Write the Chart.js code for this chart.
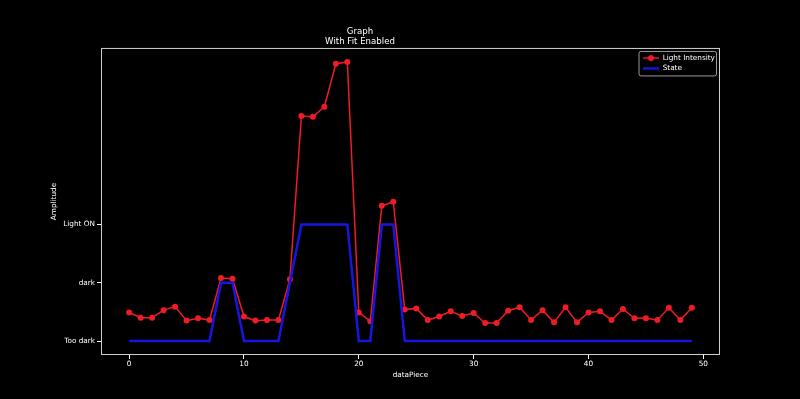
<!DOCTYPE html>
<html>
<head>
<meta charset="utf-8">
<script src="https://cdn.jsdelivr.net/npm/chart.js@4/dist/chart.umd.min.js"></script>
<style>
  html, body { margin: 0; padding: 0; background: #000; }
  canvas { display: block; }
</style>
</head>
<body>
<canvas id="graph" width="800" height="399"></canvas>
<script>
// data
const dataPiece = [0, 1, 2, 3, 4, 5, 6, 7, 8, 9, 10, 11, 12, 13, 14, 15, 16, 17, 18, 19,
    20, 21, 22, 23, 24, 25, 26, 27, 28, 29, 30, 31, 32, 33, 34, 35, 36, 37, 38, 39,
    40, 41, 42, 43, 44, 45, 46, 47, 48, 49];
const lightIntensity = [0.49, 0.40, 0.40, 0.53, 0.59, 0.35, 0.39, 0.36, 1.08, 1.07,
    0.42, 0.35, 0.36, 0.36, 1.06, 3.86, 3.85, 4.02, 4.76, 4.79,
    0.49, 0.34, 2.32, 2.39, 0.54, 0.56, 0.36, 0.42, 0.51, 0.43,
    0.48, 0.31, 0.31, 0.52, 0.58, 0.36, 0.53, 0.32, 0.58, 0.32,
    0.49, 0.51, 0.36, 0.55, 0.39, 0.39, 0.36, 0.57, 0.36, 0.57];
const state = [0, 0, 0, 0, 0, 0, 0, 0, 1, 1,
    0, 0, 0, 0, 1, 2, 2, 2, 2, 2,
    0, 0, 2, 2, 0, 0, 0, 0, 0, 0,
    0, 0, 0, 0, 0, 0, 0, 0, 0, 0,
    0, 0, 0, 0, 0, 0, 0, 0, 0, 0];
const xTicks = [0, 10, 20, 30, 40, 50];
const yTicks = [0, 1, 2];
const yTickLabels = ['Too dark', 'dark', 'Light ON'];

const RED = '#ee1c25';
const BLUE = '#1616e0';
const FONT = 'DejaVu Sans';

// small legend icons: line with marker / plain line
function legendIcon(color, width, marker) {
    const c = document.createElement('canvas');
    c.width = 16; c.height = 8;
    const g = c.getContext('2d');
    g.strokeStyle = color;
    g.lineWidth = width;
    g.beginPath(); g.moveTo(0, 4); g.lineTo(16, 4); g.stroke();
    if (marker) {
        g.fillStyle = color;
        g.beginPath(); g.arc(8, 4, 3, 0, Math.PI * 2); g.fill();
    }
    return c;
}
const redIcon = legendIcon(RED, 1.5, true);
const blueIcon = legendIcon(BLUE, 2.5, false);

const frame = {
    id: 'frame',
    beforeDraw(chart) {
        // move the legend into the top right corner of the axes
        const a = chart.chartArea;
        const lg = chart.legend;
        lg.left = a.right - 80;
        lg.right = lg.left + 78;
        lg.top = a.top + 3.5;
        lg.bottom = a.bottom;
    },
    beforeDatasetsDraw(chart) {
        const a = chart.chartArea;
        const ctx = chart.ctx;
        ctx.save();
        ctx.strokeStyle = '#d0d0d0';
        ctx.lineWidth = 1;
        ctx.strokeRect(a.left + 0.5, a.top + 0.5, a.right - a.left - 1, a.bottom - a.top - 1);
        // legend frame
        ctx.strokeStyle = '#9a9a9a';
        ctx.beginPath();
        ctx.roundRect(a.right - 81, a.top + 3.5, 77.5, 24.5, 2);
        ctx.stroke();
        ctx.restore();
    }
};

const points = (ys) => dataPiece.map((x, i) => ({ x, y: ys[i] }));

new Chart(document.getElementById('graph'), {
    type: 'line',
    data: {
        datasets: [{
            label: 'Light Intensity',
            data: points(lightIntensity),
            borderColor: RED,
            backgroundColor: RED,
            borderWidth: 1.5,
            pointRadius: 3,
            pointBorderWidth: 0,
            pointBackgroundColor: RED,
            tension: 0,
            order: 2
        }, {
            label: 'State',
            data: points(state),
            borderColor: BLUE,
            backgroundColor: BLUE,
            borderWidth: 2.5,
            pointRadius: 0,
            tension: 0,
            order: 1
        }]
    },
    options: {
        responsive: false,
        animation: false,
        devicePixelRatio: 1,
        layout: { padding: { left: 0, right: 80, top: 0, bottom: 0 } },
        scales: {
            x: {
                type: 'linear',
                min: -2.45, max: 51.45,
                afterBuildTicks: s => { s.ticks = xTicks.map(v => ({ value: v })); },
                afterFit: s => { s.height = 44; },
                grid: { drawOnChartArea: false, color: '#ffffff', tickLength: 4, tickWidth: 1 },
                border: { display: false },
                ticks: { color: '#ffffff', font: { family: FONT, size: 7.3 }, padding: 1, maxRotation: 0 },
                title: { display: true, text: 'dataPiece', color: '#ffffff',
                    font: { family: FONT, size: 7.3 }, padding: { top: 0, bottom: 20 } }
            },
            y: {
                type: 'linear',
                min: -0.24, max: 5.03,
                afterBuildTicks: s => { s.ticks = yTicks.map(v => ({ value: v })); },
                afterFit: s => { s.width = 101; },
                grid: { drawOnChartArea: false, color: '#ffffff', tickLength: 4, tickWidth: 1 },
                border: { display: false },
                ticks: {
                    color: '#ffffff', font: { family: FONT, size: 7.3 }, padding: 2,
                    callback: (v) => yTickLabels[yTicks.indexOf(v)]
                },
                title: { display: true, text: 'Amplitude', color: '#ffffff',
                    font: { family: FONT, size: 7.3 }, padding: { top: 50, bottom: 0 } }
            }
        },
        plugins: {
            title: {
                display: true,
                text: ['Graph', 'With Fit Enabled'],
                color: '#ffffff',
                font: { family: FONT, size: 8.6, weight: 'normal', lineHeight: 1.16 },
                padding: { top: 26.5, bottom: 1.5 }
            },
            legend: {
                display: true,
                position: 'chartArea',
                align: 'start',
                labels: {
                    color: '#ffffff',
                    font: { family: FONT, size: 7.3 },
                    usePointStyle: true,
                    pointStyleWidth: 16,
                    padding: 3,
                    generateLabels(chart) {
                        const items = Chart.defaults.plugins.legend.labels.generateLabels(chart);
                        items.sort((p, q) => p.datasetIndex - q.datasetIndex);
                        items.forEach(it => { it.pointStyle = it.datasetIndex === 0 ? redIcon : blueIcon; });
                        return items;
                    }
                }
            },
            tooltip: { enabled: false }
        }
    },
    plugins: [frame]
});
</script>
</body>
</html>
